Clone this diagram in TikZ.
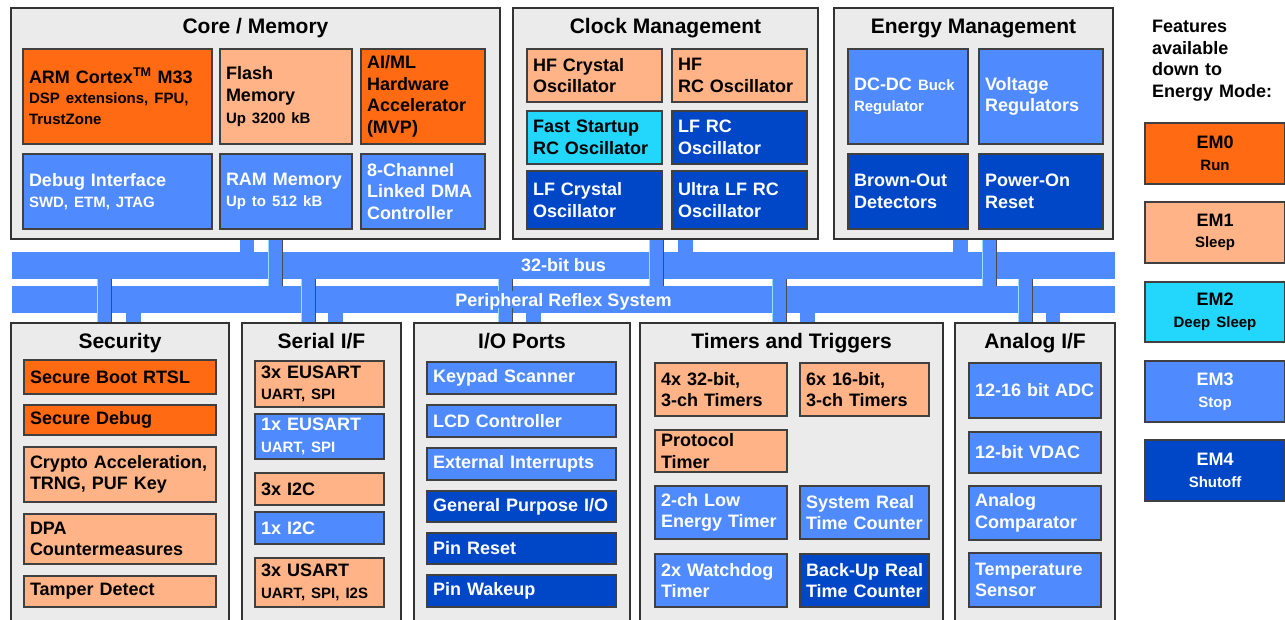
\documentclass[tikz,border=0pt]{standalone}
\usepackage{fontspec}
\setmainfont{Liberation Sans}
\usetikzlibrary{positioning}

\definecolor{emrun}{RGB}{255,106,19}
\definecolor{emsleep}{RGB}{255,179,134}
\definecolor{emdeep}{RGB}{34,214,252}
\definecolor{emstop}{RGB}{79,139,255}
\definecolor{emoff}{RGB}{0,71,200}
\definecolor{grpgray}{RGB}{235,235,235}

\newcommand{\sm}{\fontsize{15}{20}\selectfont}

\tikzset{
  box/.code 2 args={\pgfmathsetmacro\bw{#1-12}%
    \edef\bx{\noexpand\tikzset{minimum width=#1pt,minimum height=#2pt,text width=\bw pt}}\bx},
  blk/.style={draw=black!75, line width=1.2pt, inner xsep=6pt, inner ysep=0pt, align=left,
    font=\fontsize{18}{21.6}\selectfont\bfseries},
  runbox/.style={blk, fill=emrun, text=black},
  sleepbox/.style={blk, fill=emsleep, text=black},
  deepbox/.style={blk, fill=emdeep, text=black},
  stopbox/.style={blk, fill=emstop, text=white},
  offbox/.style={blk, fill=emoff, text=white},
  grp/.style={draw=black!80, fill=grpgray, line width=1.2pt},
  ttl/.style={font=\fontsize{21}{25}\selectfont\bfseries, text height=15pt, text depth=0pt, inner sep=0pt},
  bus/.style={fill=emstop, inner sep=0pt, minimum width=1103pt, minimum height=27pt},
  bustext/.style={fill=emstop, text=white, font=\fontsize{18}{21.6}\selectfont\bfseries,
    text height=13pt, text depth=0pt, inner xsep=3pt, inner ysep=2pt},
  stub/.style={draw=emstop, line width=14.5pt},
  edged/.style={postaction={draw=black!70, line width=1pt, transform canvas={xshift=7pt}},
    postaction={draw=cyan!40, line width=1pt, transform canvas={xshift=-7pt}}},
  feat/.style={anchor=north west, inner sep=0pt, align=left, text width=130pt,
    font=\fontsize{18}{21.6}\selectfont\bfseries}
}

\begin{document}
\begin{tikzpicture}[x=1pt, y=-1pt]
  \useasboundingbox (0,0) rectangle (1285,620);
  \fill[white] (0,0) rectangle (1285,620);
  \clip (0,0) rectangle (1285,620);

  % Core / Memory
  \node[grp, minimum width=489pt, minimum height=231pt] (core) at (255.5,123.5) {};
  \node[ttl, below=11pt of core.north] (coret) {Core / Memory};
  \node[runbox, box={189}{95}] (arm) at (117.5,96.5) {ARM Cortex\textsuperscript{TM} M33\\\sm DSP extensions, FPU,\\TrustZone};
  \node[sleepbox, box={132}{95}] (flash) at (286,96.5) {Flash\\Memory\\\sm Up 3200 kB};
  \node[runbox, box={124}{95}] (mvp) at (423,96.5) {AI/ML\\Hardware\\Accelerator\\(MVP)};
  \node[stopbox, box={189}{75}] (dbg) at (117.5,191.5) {Debug Interface\\\sm SWD, ETM, JTAG};
  \node[stopbox, box={132}{75}] (ram) at (286,191.5) {RAM Memory\\\sm Up to 512 kB};
  \node[stopbox, box={124}{75}] (dma) at (423,191.5) {8-Channel\\Linked DMA\\Controller};

  % Clock Management
  \node[grp, minimum width=305pt, minimum height=231pt] (clock) at (665.5,123.5) {};
  \node[ttl, below=11pt of clock.north] (clockt) {Clock Management};
  \node[sleepbox, box={135}{53}] (hfxo) at (594.5,75.5) {HF Crystal\\Oscillator};
  \node[sleepbox, box={135}{53}] (hfrco) at (739.5,75.5) {HF\\RC Oscillator};
  \node[deepbox, box={135}{53}] (fsrco) at (594.5,137.5) {Fast Startup\\RC Oscillator};
  \node[offbox, box={135}{53}] (lfrco) at (739.5,137.5) {LF RC\\Oscillator};
  \node[offbox, box={135}{58}] (lfxo) at (594.5,200) {LF Crystal\\Oscillator};
  \node[offbox, box={135}{58}] (ulfrco) at (739.5,200) {Ultra LF RC\\Oscillator};

  % Energy Management
  \node[grp, minimum width=279pt, minimum height=231pt] (energy) at (973.5,123.5) {};
  \node[ttl, below=11pt of energy.north] (energyt) {Energy Management};
  \node[stopbox, box={120}{95}] (dcdc) at (908,96.5) {DC-DC {\sm Buck}\\\sm Regulator};
  \node[stopbox, box={124}{95}] (vreg) at (1041,96.5) {Voltage\\Regulators};
  \node[offbox, box={120}{75}] (bod) at (908,191.5) {Brown-Out\\Detectors};
  \node[offbox, box={124}{75}] (por) at (1041,191.5) {Power-On\\Reset};

  % buses
  \node[bus] (bus32) at (563.5,265.5) {};
  \node[bus] (prs) at (563.5,299.5) {};

  % Security
  \node[grp, minimum width=218pt, minimum height=317pt] (sec) at (120,481.5) {};
  \node[ttl, below=11pt of sec.north] (sect) {Security};
  \node[runbox, box={192}{34}] (sboot) at (120,377) {Secure Boot RTSL};
  \node[runbox, box={192}{30}] (sdbg) at (120,420) {Secure Debug};
  \node[sleepbox, box={192}{55}] (crypto) at (120,474.5) {\mbox{Crypto Acceleration,}\\TRNG, PUF Key};
  \node[sleepbox, box={192}{50}] (dpa) at (120,539) {DPA\\Countermeasures};
  \node[sleepbox, box={192}{31}] (tamper) at (120,591.5) {Tamper Detect};

  % Serial I/F
  \node[grp, minimum width=159pt, minimum height=317pt] (ser) at (321.5,481.5) {};
  \node[ttl, below=11pt of ser.north] (sert) {Serial I/F};
  \node[sleepbox, box={129}{46}] (eus3) at (319.5,384) {3x EUSART\\\sm UART, SPI};
  \node[stopbox, box={129}{45}] (eus1) at (319.5,436.5) {1x EUSART\\\sm UART, SPI};
  \node[sleepbox, box={129}{32}] (i2c3) at (319.5,489) {3x I2C};
  \node[stopbox, box={129}{32}] (i2c1) at (319.5,528) {1x I2C};
  \node[sleepbox, box={129}{49}] (usart) at (319.5,582.5) {3x USART\\\sm UART, SPI, I2S};

  % I/O Ports
  \node[grp, minimum width=216pt, minimum height=317pt] (io) at (522,481.5) {};
  \node[ttl, below=11pt of io.north] (iot) {I/O Ports};
  \node[stopbox, box={189}{32}] (keypad) at (521.5,378) {Keypad Scanner};
  \node[stopbox, box={189}{32}] (lcd) at (521.5,421) {LCD Controller};
  \node[stopbox, box={189}{32}] (extint) at (521.5,464) {External Interrupts};
  \node[offbox, box={189}{31}] (gpio) at (521.5,506.5) {\mbox{General Purpose I/O}};
  \node[offbox, box={189}{31}] (pinrst) at (521.5,548.5) {Pin Reset};
  \node[offbox, box={189}{32}] (pinwk) at (521.5,591) {Pin Wakeup};

  % Timers and Triggers
  \node[grp, minimum width=303pt, minimum height=317pt] (tim) at (791.5,481.5) {};
  \node[ttl, below=11pt of tim.north] (timt) {Timers and Triggers};
  \node[sleepbox, box={132}{53}] (t32) at (721,389.5) {4x 32-bit,\\3-ch Timers};
  \node[sleepbox, box={129}{53}] (t16) at (864.5,389.5) {6x 16-bit,\\3-ch Timers};
  \node[sleepbox, box={132}{42}] (proto) at (721,451) {Protocol\\Timer};
  \node[stopbox, box={132}{53}] (letim) at (721,512.5) {2-ch Low\\Energy Timer};
  \node[stopbox, box={129}{53}] (sysrtc) at (864.5,512.5) {System Real\\\mbox{Time Counter}};
  \node[stopbox, box={132}{53}] (wdog) at (721,580.5) {2x Watchdog\\Timer};
  \node[offbox, box={129}{53}] (burtc) at (864.5,580.5) {\mbox{Back-Up Real}\\\mbox{Time Counter}};

  % Analog I/F
  \node[grp, minimum width=160pt, minimum height=317pt] (ana) at (1035,481.5) {};
  \node[ttl, below=11pt of ana.north] (anat) {Analog I/F};
  \node[stopbox, box={132}{55}] (adc) at (1035,390.5) {12-16 bit ADC};
  \node[stopbox, box={132}{41}] (vdac) at (1035,452.5) {12-bit VDAC};
  \node[stopbox, box={132}{54}] (acmp) at (1035,513) {Analog\\Comparator};
  \node[stopbox, box={132}{54}] (temp) at (1035,580) {Temperature\\Sensor};

  % links to the buses
  \draw[stub] (247,0 |- core.south) -- (247,0 |- bus32.north);
  \draw[stub, edged] (275.5,0 |- core.south) -- (275.5,0 |- prs.north);
  \draw[stub, edged] (656.5,0 |- clock.south) -- (656.5,0 |- prs.north);
  \draw[stub] (685.5,0 |- clock.south) -- (685.5,0 |- bus32.north);
  \draw[stub] (960.5,0 |- energy.south) -- (960.5,0 |- bus32.north);
  \draw[stub, edged] (989.5,0 |- energy.south) -- (989.5,0 |- prs.north);
  \draw[stub, edged] (104,0 |- bus32.south) -- (104,0 |- sec.north);
  \draw[stub] (133.5,0 |- prs.south) -- (133.5,0 |- sec.north);
  \draw[stub, edged] (308,0 |- bus32.south) -- (308,0 |- ser.north);
  \draw[stub] (335.5,0 |- prs.south) -- (335.5,0 |- ser.north);
  \draw[stub, edged] (505.5,0 |- bus32.south) -- (505.5,0 |- io.north);
  \draw[stub] (533.5,0 |- prs.south) -- (533.5,0 |- io.north);
  \draw[stub, edged] (779,0 |- bus32.south) -- (779,0 |- tim.north);
  \draw[stub] (807.5,0 |- prs.south) -- (807.5,0 |- tim.north);
  \draw[stub, edged] (1025.5,0 |- bus32.south) -- (1025.5,0 |- ana.north);
  \draw[stub] (1053,0 |- prs.south) -- (1053,0 |- ana.north);

  % bus names
  \node[bustext] (bus32t) at (bus32) {32-bit bus};
  \node[bustext] (prst) at (prs) {Peripheral Reflex System};

  % legend
  \node[feat] (feat) at (1152,20) {Features\\available\\down to\\Energy Mode:};
  \node[runbox, box={140}{61}, align=center] (em0) at (1215,153.5) {EM0\\\sm Run};
  \node[sleepbox, box={140}{61}, align=center] (em1) at (1215,232.5) {EM1\\\sm Sleep};
  \node[deepbox, box={140}{60}, align=center] (em2) at (1215,312) {EM2\\\sm Deep Sleep};
  \node[stopbox, box={140}{61}, align=center] (em3) at (1215,391.5) {EM3\\\sm Stop};
  \node[offbox, box={140}{61}, align=center] (em4) at (1215,470.5) {EM4\\\sm Shutoff};
\end{tikzpicture}
\end{document}
